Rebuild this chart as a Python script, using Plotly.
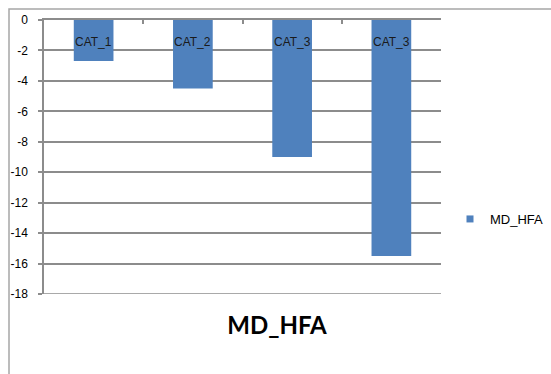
import plotly.graph_objects as go

# Chart data
categories = ["CAT_1", "CAT_2", "CAT_3", "CAT_3"]
md_hfa = [-2.7, -4.5, -9.0, -15.5]
series_name = "MD_HFA"
y_ticks = [0, -2, -4, -6, -8, -10, -12, -14, -16, -18]
y_tick_labels = ["0", "-2", "-4", "-6", "-8", "-10", "-12", "-14", "-16", "-18"]

FONT = "Liberation Sans, Arial, sans-serif"
TITLE_FONT = "Lato, Liberation Sans, sans-serif"
GRID = "#8c8c8c"
BAR = "#4f81bd"

positions = list(range(len(categories)))

fig = go.Figure()
fig.add_trace(go.Bar(
    x=positions,
    y=md_hfa,
    width=0.4,
    name=series_name,
    marker=dict(color=BAR, line=dict(width=0)),
    showlegend=False,
    legendgroup=series_name,
))
# Small square key for the legend entry
fig.add_trace(go.Scatter(
    x=[None], y=[None], mode="markers", name=series_name,
    legendgroup=series_name,
    marker=dict(symbol="square", size=7, color=BAR),
))

# Category labels sit just under the zero axis line
for pos, name in zip(positions, categories):
    fig.add_annotation(
        x=pos, y=-1.45, xref="x", yref="y",
        text=name, showarrow=False,
        font=dict(family=FONT, size=12, color="#1a1a1a"),
    )

L, R, T, B = 44, 110, 20, 80
W, H = 551, 374
pw, ph = W - L - R, H - T - B

def px_x(p):
    return (p - L) / pw

def px_y(p):
    return (H - B - p) / ph

# Outer chart frame
fig.add_shape(
    type="rect", xref="paper", yref="paper",
    x0=px_x(9), x1=px_x(W + 10), y0=px_y(H + 10), y1=px_y(9),
    line=dict(color="#a6a6a6", width=1.5), fillcolor="rgba(0,0,0,0)",
    layer="below",
)
# Gridline at the bottom of the value range
fig.add_shape(
    type="line", xref="paper", yref="y",
    x0=0, x1=1, y0=y_ticks[-1], y1=y_ticks[-1],
    line=dict(color=GRID, width=1.5), layer="below",
)

fig.update_layout(
    width=W, height=H,
    margin=dict(l=L, r=R, t=T, b=B, pad=0, autoexpand=False),
    paper_bgcolor="white",
    plot_bgcolor="white",
    font=dict(family=FONT, color="#000000"),
    title=dict(
        text="<b>MD_HFA</b>",
        x=277 / W, xref="container", xanchor="center",
        y=1 - 326 / H, yref="container", yanchor="middle",
        font=dict(family=TITLE_FONT, size=24, color="#000000"),
    ),
    xaxis=dict(
        range=[-0.5, len(categories) - 0.5],
        side="top",
        tickvals=[p - 0.5 for p in positions] + [len(categories) - 0.5],
        showticklabels=False,
        ticks="inside", ticklen=4, tickcolor=GRID, tickwidth=1.5,
        showline=True, linecolor=GRID, linewidth=1.5,
        showgrid=False, zeroline=False,
    ),
    yaxis=dict(
        range=[-18, 0],
        tickvals=y_ticks,
        ticktext=y_tick_labels,
        ticks="outside", ticklen=4, tickcolor=GRID, tickwidth=1.5,
        ticklabelstandoff=8,
        tickfont=dict(family=FONT, size=12, color="#000000"),
        showline=True, linecolor=GRID, linewidth=1.5,
        showgrid=True, gridcolor=GRID, gridwidth=1.5,
        zeroline=False,
    ),
    legend=dict(
        x=px_x(450), y=px_y(219), xanchor="left", yanchor="middle",
        xref="paper", yref="paper",
        font=dict(family=FONT, size=13, color="#000000"),
        bgcolor="rgba(0,0,0,0)",
        itemwidth=30,
    ),
)

fig.write_html("out.html")
